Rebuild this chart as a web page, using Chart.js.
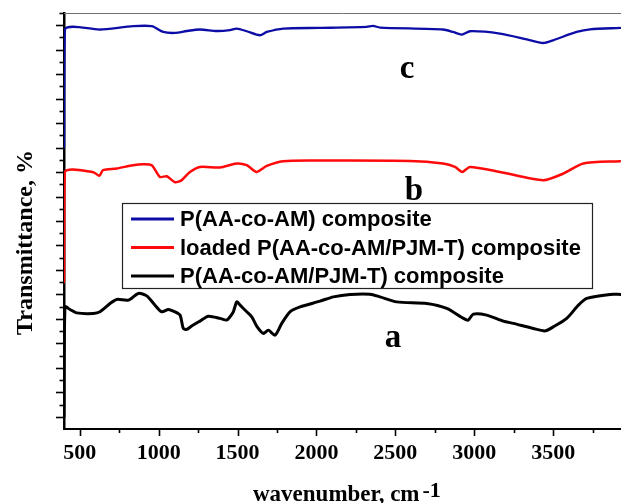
<!DOCTYPE html>
<html><head><meta charset="utf-8">
<script src="https://cdn.jsdelivr.net/npm/chart.js@4.4.0/dist/chart.umd.min.js"></script>
<style>html,body{margin:0;padding:0;background:#fff;overflow:hidden}canvas{display:block}</style>
</head><body>
<canvas id="c" width="621" height="503"></canvas>
<script>
// ---- data ----
const seriesNames = ['P(AA-co-AM) composite', 'loaded P(AA-co-AM/PJM-T) composite', 'P(AA-co-AM/PJM-T) composite'];
const curveLabels = ['c', 'b', 'a'];

const wnC = [400,406,628,839,956,1029,1103,1178,1262,1368,1452,1495,1558,1642,1685,1790,2023,2318,2358,2403,2802,2865,2921,2973,3163,3333,3436,3499,3649,3734,3924];
const tC  = [23.0,32.65,32.65,32.92,32.92,32.45,32.37,32.53,32.65,32.53,32.6,32.73,32.51,32.18,32.45,32.73,32.78,32.86,32.94,32.81,32.65,32.45,32.24,32.51,32.32,31.85,31.55,31.77,32.45,32.67,32.78];

const wnB = [400,405,586,624,647,734,837,900,956,1008,1051,1103,1146,1198,1262,1388,1495,1558,1621,1685,1788,2023,2593,2802,2878,2924,2973,3163,3437,3565,3691,3924];
const tB  = [12.0,20.99,20.99,20.69,21.15,21.29,21.56,21.64,21.56,20.60,20.66,20.17,20.34,21.01,21.42,21.37,21.70,21.56,21.01,21.50,21.89,21.94,21.91,21.70,21.42,21.01,21.42,21.01,20.34,20.88,21.70,21.89];

const wnA = [400,406,438,480,586,628,692,734,808,871,924,977,1019,1061,1093,1135,1156,1178,1209,1262,1315,1389,1431,1452,1473,1495,1516,1558,1590,1621,1663,1695,1737,1780,1832,1896,2023,2107,2213,2339,2403,2509,2699,2826,2931,2962,2994,3079,3184,3248,3374,3449,3501,3586,3660,3713,3861,3930];
const tA  = [1.0,9.98,9.77,9.49,9.44,9.58,10.26,10.59,10.53,11.08,10.88,10.12,9.58,9.77,9.63,9.31,8.22,8.14,8.41,8.82,9.22,9.04,8.90,9.17,9.58,10.39,10.12,9.58,9.17,8.41,7.81,8.08,7.67,8.63,9.58,9.98,10.45,10.80,11.00,11.02,10.80,10.39,10.26,9.85,9.04,8.90,9.39,9.31,8.82,8.63,8.22,8.02,8.35,9.04,10.12,10.67,11.00,11.00];

const xTickValues = [500,750,1000,1250,1500,1750,2000,2250,2500,2750,3000,3250,3500,3750];
const xTickLabels = ['500','','1000','','1500','','2000','','2500','','3000','','3500',''];
const yTickValues = [1,2,3,4,5,6,7,8,9,10,11,12,13,14,15,16,17,18,19,20,21,22,23,24,25,26,27,28,29,30,31,32,33,34];
const xTitle = 'wavenumber, cm';
const xTitleSup = '-1';
const yTitle = 'Transmittance, %';

// ---- chart ----
const zip = (xs, ys) => xs.map((x, i) => ({x: x, y: ys[i]}));
const serif = '"Liberation Serif", "Times New Roman", serif';
const sans = '"Liberation Sans", Arial, sans-serif';

const decor = {
  id: 'decor',
  afterDraw(chart) {
    const ctx = chart.ctx, xs = chart.scales.x, ys = chart.scales.y, ca = chart.chartArea;
    ctx.save();
    // top frame line
    ctx.strokeStyle = '#707070'; ctx.lineWidth = 1;
    ctx.beginPath(); ctx.moveTo(ca.left, ca.top + 0.5); ctx.lineTo(ca.right, ca.top + 0.5); ctx.stroke();
    // x tick marks
    ctx.strokeStyle = '#000'; ctx.lineWidth = 1.6;
    xTickValues.forEach((v, i) => {
      const px = Math.round(xs.getPixelForValue(v)) + 0.5;
      const len = xTickLabels[i] ? 7 : 4;
      ctx.beginPath(); ctx.moveTo(px, ca.bottom); ctx.lineTo(px, ca.bottom + len); ctx.stroke();
    });
    // y tick marks
    yTickValues.forEach(v => {
      const py = Math.round(ys.getPixelForValue(v)) + 0.5;
      const len = (v % 2 === 1) ? 8 : 4.5;
      ctx.beginPath(); ctx.moveTo(ca.left, py); ctx.lineTo(ca.left - len, py); ctx.stroke();
    });
    // axis titles
    ctx.fillStyle = '#000';
    ctx.font = 'bold 23px ' + serif;
    ctx.textAlign = 'left'; ctx.textBaseline = 'alphabetic';
    ctx.fillText(xTitle, 253, 501);
    const w = ctx.measureText(xTitle).width;
    ctx.font = 'bold 22px ' + serif;
    ctx.fillText(xTitleSup, 253 + w + 3, 497);
    ctx.save();
    ctx.translate(32, 242.5); ctx.rotate(-Math.PI / 2);
    ctx.font = 'bold 24px ' + serif; ctx.textAlign = 'center';
    ctx.fillText(yTitle, 0, 0);
    ctx.restore();
    // curve labels
    ctx.font = 'bold 33px ' + serif; ctx.textAlign = 'center';
    const lp = [[407, 78], [414, 200], [393, 347]];
    curveLabels.forEach((t, i) => ctx.fillText(t, lp[i][0], lp[i][1]));
    // legend box
    ctx.fillStyle = '#fff'; ctx.fillRect(122, 203, 471, 86);
    ctx.strokeStyle = '#222'; ctx.lineWidth = 1.2; ctx.strokeRect(122.5, 203.5, 470, 85);
    ctx.font = 'bold 22px ' + sans; ctx.textAlign = 'left'; ctx.textBaseline = 'middle';
    const rows = [219, 247.5, 276];
    chart.data.datasets.forEach((ds, i) => {
      ctx.strokeStyle = ds.borderColor; ctx.lineWidth = 3;
      ctx.beginPath(); ctx.moveTo(131, rows[i]); ctx.lineTo(174, rows[i]); ctx.stroke();
      ctx.fillStyle = '#000'; ctx.fillText(ds.label, 180, rows[i] + 1);
    });
    ctx.restore();
  }
};

new Chart(document.getElementById('c'), {
  type: 'line',
  data: {
    datasets: [
      {label: seriesNames[0], data: zip(wnC, tC), borderColor: '#0c0ca6', borderWidth: 2.3},
      {label: seriesNames[1], data: zip(wnB, tB), borderColor: '#ff0a0a', borderWidth: 2.5},
      {label: seriesNames[2], data: zip(wnA, tA), borderColor: '#000000', borderWidth: 3}
    ]
  },
  options: {
    responsive: false,
    animation: false,
    events: [],
    layout: {padding: {top: 13, left: 0, right: 0, bottom: 0}},
    elements: {point: {radius: 0}, line: {tension: 0.25, borderJoinStyle: 'round', borderCapStyle: 'round'}},
    plugins: {legend: {display: false}, tooltip: {enabled: false}},
    scales: {
      x: {
        type: 'linear', min: 400, max: 3930,
        afterBuildTicks: (axis) => { axis.ticks = xTickValues.map(v => ({value: v})); },
        afterFit: (axis) => { axis.height = 74; },
        ticks: {
          autoSkip: false, maxRotation: 0, padding: 11, color: '#000',
          font: {family: serif, size: 22, weight: 'bold'},
          callback: (v) => { const i = xTickValues.indexOf(v); return i >= 0 ? xTickLabels[i] : ''; }
        },
        grid: {display: false, drawTicks: false},
        border: {display: true, color: '#000', width: 2}
      },
      y: {
        type: 'linear', min: 0, max: 34,
        afterFit: (axis) => { axis.width = 64; },
        ticks: {display: false},
        grid: {display: false, drawTicks: false},
        border: {display: true, color: '#000', width: 2.5}
      }
    }
  },
  plugins: [decor]
});
</script>
</body></html>
